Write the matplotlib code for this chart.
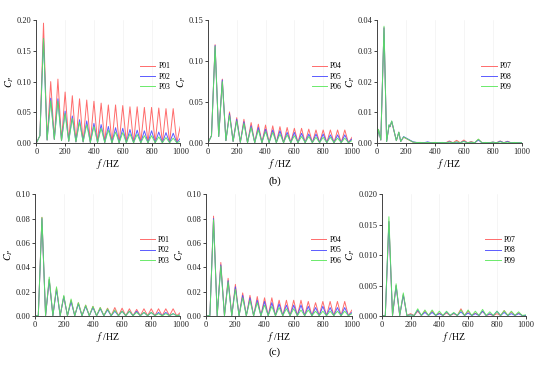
"""
Pressure coefficient spectra C_P vs frequency for monitoring points P01-P09, rows (b) and (c).
"""

import matplotlib

matplotlib.use("Agg")
import matplotlib.pyplot as plt
import numpy as np

# sampling of the spectra: troughs between harmonics and the harmonic peaks
TROUGH_F = [0, 25, 75, 125, 175, 225, 275, 325, 375, 425, 475,
            525, 575, 625, 675, 725, 775, 825, 875, 925, 975]
PEAK_F = [50, 100, 150, 200, 250, 300, 350, 400, 450, 500,
          550, 600, 650, 700, 750, 800, 850, 900, 950, 1000]

# ---- row (b) ----
B1_TROUGH = [0.0, 0.012, 0.005, 0.006, 0.004, 0.003, 0.002, 0.002, 0.001, 0.001, 0.001,
             0.0005, 0.0005, 0.0005, 0.0005, 0.0005, 0.0005, 0.0005, 0.0005, 0.0005, 0.0005]
P01_B = [0.195, 0.100, 0.104, 0.083, 0.077, 0.072, 0.070, 0.068, 0.065, 0.062,
         0.062, 0.061, 0.059, 0.059, 0.058, 0.058, 0.057, 0.056, 0.056, 0.028]
P02_B = [0.170, 0.073, 0.072, 0.052, 0.044, 0.038, 0.036, 0.032, 0.030, 0.027,
         0.025, 0.024, 0.022, 0.021, 0.020, 0.020, 0.018, 0.017, 0.016, 0.008]
P03_B = [0.170, 0.069, 0.068, 0.048, 0.040, 0.034, 0.030, 0.027, 0.024, 0.021,
         0.018, 0.017, 0.015, 0.014, 0.012, 0.012, 0.010, 0.009, 0.008, 0.003]

B2_TROUGH = [0.0, 0.009, 0.008, 0.003, 0.002, 0.001, 0.0005, 0.0005, 0.0005, 0.0005, 0.0005,
             0.0005, 0.0005, 0.0005, 0.0005, 0.0005, 0.0005, 0.0005, 0.0005, 0.0005, 0.0005]
P04_B = [0.120, 0.078, 0.038, 0.031, 0.029, 0.025, 0.023, 0.022, 0.021, 0.020,
         0.019, 0.018, 0.018, 0.017, 0.016, 0.016, 0.016, 0.016, 0.016, 0.007]
P05_B = [0.119, 0.077, 0.036, 0.029, 0.026, 0.021, 0.019, 0.017, 0.016, 0.015,
         0.013, 0.013, 0.012, 0.011, 0.011, 0.011, 0.010, 0.010, 0.010, 0.005]
P06_B = [0.118, 0.075, 0.034, 0.027, 0.024, 0.019, 0.016, 0.014, 0.013, 0.011,
         0.010, 0.009, 0.008, 0.008, 0.007, 0.007, 0.007, 0.006, 0.006, 0.003]

# panel 3 of row (b) is irregular, so it keeps its own frequency list
B3_F = [0, 12, 28, 50, 68, 85, 92, 103, 135, 152, 165, 185, 250,
        275, 300, 325, 350, 375, 400, 425, 450, 475, 500, 525, 550, 575, 600,
        625, 650, 675, 700, 725, 750, 775, 800, 825, 850, 875, 900, 925, 950, 975, 1000]
P07_B = [0.0, 0.0043, 0.001, 0.0375, 0.0005, 0.0058, 0.0053, 0.0070, 0.0008, 0.0035, 0.0005, 0.0019, 0.0003,
         0.0001, 0.0002, 0.0001, 0.0002, 0.0001, 0.0002, 0.0001, 0.0002, 0.0001, 0.0007, 0.0001, 0.0009,
         0.0001, 0.0010, 0.0001, 0.0005, 0.0001, 0.0012, 0.0001, 0.0002, 0.0001, 0.0003, 0.0001, 0.0007,
         0.0001, 0.0006, 0.0001, 0.0002, 0.0001, 0.0001]
P08_B = [0.0, 0.0043, 0.001, 0.0375, 0.0005, 0.0059, 0.0054, 0.0071, 0.0008, 0.0035, 0.0005, 0.0021, 0.0004,
         0.0002, 0.0002, 0.0001, 0.0004, 0.0001, 0.0002, 0.0001, 0.0002, 0.0001, 0.0004, 0.0001, 0.0003,
         0.0001, 0.0006, 0.0001, 0.0003, 0.0001, 0.0010, 0.0001, 0.0002, 0.0001, 0.0003, 0.0001, 0.0006,
         0.0001, 0.0005, 0.0001, 0.0002, 0.0001, 0.0001]
P09_B = [0.0, 0.0045, 0.001, 0.0380, 0.0005, 0.0060, 0.0055, 0.0072, 0.0008, 0.0036, 0.0005, 0.0020, 0.0003,
         0.0002, 0.0002, 0.0001, 0.0002, 0.0001, 0.0002, 0.0001, 0.0002, 0.0001, 0.0003, 0.0001, 0.0004,
         0.0001, 0.0005, 0.0001, 0.0003, 0.0001, 0.0013, 0.0001, 0.0002, 0.0001, 0.0003, 0.0001, 0.0004,
         0.0001, 0.0003, 0.0001, 0.0002, 0.0001, 0.0001]

# ---- row (c) ----
C_TROUGH = [0.0, 0.0005, 0.0003, 0.0003, 0.0003, 0.0003, 0.0003, 0.0003, 0.0003, 0.0003, 0.0003,
            0.0003, 0.0003, 0.0003, 0.0003, 0.0003, 0.0003, 0.0003, 0.0003, 0.0003, 0.0003]
P01_C = [0.081, 0.030, 0.023, 0.016, 0.013, 0.011, 0.009, 0.008, 0.007, 0.0065,
         0.007, 0.0065, 0.006, 0.0055, 0.006, 0.006, 0.006, 0.006, 0.006, 0.003]
P02_C = [0.080, 0.030, 0.022, 0.016, 0.012, 0.010, 0.008, 0.007, 0.006, 0.005,
         0.004, 0.004, 0.004, 0.004, 0.003, 0.003, 0.003, 0.003, 0.002, 0.001]
P03_C = [0.081, 0.032, 0.024, 0.017, 0.014, 0.011, 0.009, 0.008, 0.007, 0.006,
         0.005, 0.004, 0.004, 0.003, 0.003, 0.003, 0.002, 0.002, 0.002, 0.001]

P04_C = [0.082, 0.044, 0.031, 0.026, 0.019, 0.017, 0.016, 0.015, 0.015, 0.013,
         0.013, 0.013, 0.013, 0.012, 0.011, 0.012, 0.012, 0.012, 0.012, 0.005]
P05_C = [0.080, 0.042, 0.029, 0.024, 0.017, 0.015, 0.013, 0.012, 0.011, 0.010,
         0.009, 0.009, 0.009, 0.008, 0.007, 0.008, 0.007, 0.007, 0.007, 0.003]
P06_C = [0.079, 0.041, 0.028, 0.022, 0.015, 0.013, 0.011, 0.009, 0.008, 0.007,
         0.006, 0.006, 0.005, 0.005, 0.004, 0.004, 0.004, 0.004, 0.004, 0.002]

C3_TROUGH = [0.0, 0.0001, 0.0001, 0.0001, 0.0001, 0.0001, 0.0001, 0.0001, 0.0001, 0.0001, 0.0001,
             0.0001, 0.0001, 0.0001, 0.0001, 0.0001, 0.0001, 0.0001, 0.0001, 0.0001, 0.0001]
P07_C = [0.0155, 0.0050, 0.0035, 0.0004, 0.0008, 0.0008, 0.0008, 0.0005, 0.0005, 0.0004,
         0.0012, 0.0008, 0.0005, 0.0008, 0.0003, 0.0004, 0.0009, 0.0007, 0.0005, 0.0001]
P08_C = [0.0155, 0.0050, 0.0035, 0.0002, 0.0010, 0.0006, 0.0006, 0.0004, 0.0007, 0.0005,
         0.0007, 0.0005, 0.0004, 0.0008, 0.0004, 0.0008, 0.0006, 0.0004, 0.0004, 0.0001]
P09_C = [0.0163, 0.0053, 0.0038, 0.0002, 0.0012, 0.0010, 0.0010, 0.0008, 0.0008, 0.0006,
         0.0010, 0.0010, 0.0008, 0.0011, 0.0007, 0.0008, 0.0009, 0.0008, 0.0007, 0.0002]

LABELS = [["P01", "P02", "P03"], ["P04", "P05", "P06"], ["P07", "P08", "P09"]]
Y_LIMITS = [[0.20, 0.15, 0.04], [0.10, 0.10, 0.020]]
Y_STEPS = [[0.05, 0.05, 0.01], [0.02, 0.02, 0.005]]
Y_FORMATS = [["%.2f", "%.2f", "%.2f"], ["%.2f", "%.2f", "%.3f"]]

COLORS = ["#ff5c5c", "#4a4aff", "#5be85b"]

# axes rectangles in figure fraction (left, bottom, width, height)
AX_RECTS = [
    [(0.066, 0.608, 0.262, 0.337), (0.378, 0.608, 0.262, 0.337), (0.685, 0.608, 0.264, 0.337)],
    [(0.063, 0.134, 0.265, 0.334), (0.375, 0.134, 0.265, 0.334), (0.694, 0.134, 0.262, 0.334)],
]


def _spectrum(troughs, peaks):
    """Merge trough and peak samples into one frequency-ordered series."""
    f = [TROUGH_F[0]]
    y = [troughs[0]]
    for tf, tv, pf, pv in zip(TROUGH_F[1:], troughs[1:], PEAK_F, peaks):
        f += [tf, pf]
        y += [tv, pv]
    return np.array(f), np.array(y)


def _style_axes(ax, ymax, ystep, yfmt):
    ax.set_xlim(0, 1000)
    ax.set_ylim(0, ymax)
    ax.set_xticks(np.arange(0, 1001, 200))
    yt = np.arange(0, ymax + ystep / 2, ystep)
    ax.set_yticks(yt)
    ax.set_yticklabels([yfmt % v for v in yt])
    for side in ("top", "right"):
        ax.spines[side].set_visible(False)
    for side in ("left", "bottom"):
        ax.spines[side].set_linewidth(0.7)
        ax.spines[side].set_color("#444444")
    ax.tick_params(direction="out", length=2, width=0.6, labelsize=6, pad=1.2, colors="#222222")
    ax.set_axisbelow(True)
    ax.grid(axis="x", color="#f2f2f2", lw=0.5)
    ax.set_xlabel(r"$f$ /HZ", fontsize=7, labelpad=1)
    ax.set_ylabel(r"$C_P$", fontsize=7, labelpad=0.5)


def main():
    plt.rcParams["font.family"] = ["Liberation Serif", "DejaVu Serif"]
    plt.rcParams["mathtext.fontset"] = "stix"

    fig = plt.figure(figsize=(5.5, 3.65), dpi=100)

    series = [
        [
            [_spectrum(B1_TROUGH, P01_B), _spectrum(B1_TROUGH, P02_B), _spectrum(B1_TROUGH, P03_B)],
            [_spectrum(B2_TROUGH, P04_B), _spectrum(B2_TROUGH, P05_B), _spectrum(B2_TROUGH, P06_B)],
            [(np.array(B3_F), np.array(P07_B)), (np.array(B3_F), np.array(P08_B)),
             (np.array(B3_F), np.array(P09_B))],
        ],
        [
            [_spectrum(C_TROUGH, P01_C), _spectrum(C_TROUGH, P02_C), _spectrum(C_TROUGH, P03_C)],
            [_spectrum(C_TROUGH, P04_C), _spectrum(C_TROUGH, P05_C), _spectrum(C_TROUGH, P06_C)],
            [_spectrum(C3_TROUGH, P07_C), _spectrum(C3_TROUGH, P08_C), _spectrum(C3_TROUGH, P09_C)],
        ],
    ]

    for r in range(2):
        for c in range(3):
            ax = fig.add_axes(AX_RECTS[r][c])
            for (f, y), label, color in zip(series[r][c], LABELS[c], COLORS):
                ax.plot(f, y, color=color, lw=0.7, alpha=0.9, label=label)
            _style_axes(ax, Y_LIMITS[r][c], Y_STEPS[r][c], Y_FORMATS[r][c])
            ax.legend(
                loc="center left",
                bbox_to_anchor=(0.72, 0.54),
                frameon=False,
                fontsize=5.5,
                handlelength=2.0,
                handletextpad=0.4,
                labelspacing=0.3,
                borderpad=0,
                borderaxespad=0,
            )

    fig.text(0.5, 1 - 181 / 365, "(b)", ha="center", va="center", fontsize=8)
    fig.text(0.5, 1 - 352 / 365, "(c)", ha="center", va="center", fontsize=8)

    fig.savefig("out.png", dpi=100)
    plt.close(fig)


if __name__ == "__main__":
    main()
